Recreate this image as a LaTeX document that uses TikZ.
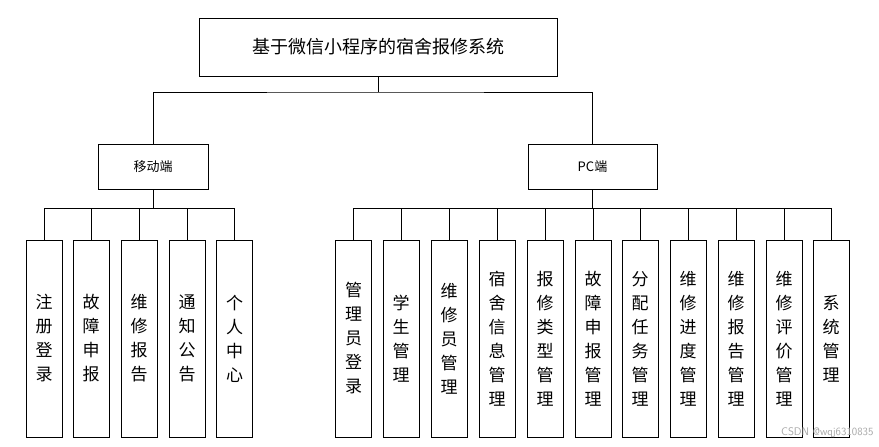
\documentclass[tikz,border=0pt]{standalone}
\usepackage{fontspec}
\newfontfamily\cjk{Noto Sans CJK SC}
\begin{document}
\begin{tikzpicture}[x=1pt,y=-1pt,
    box/.style={draw,line width=0.8pt,inner sep=0pt,font=\cjk},
    leaf/.style={box,minimum width=36pt,minimum height=197pt,align=center,
      font=\cjk\fontsize{17}{24}\selectfont},
    link/.style={line width=0.8pt}]
  \useasboundingbox (0,0) rectangle (879,447);

  % root and second level
  \node[box,minimum width=358pt,minimum height=58pt,font=\cjk\fontsize{18}{22}\selectfont] (root) at (378,47) {基于微信小程序的宿舍报修系统};
  \node[box,minimum width=110pt,minimum height=45pt,font=\cjk\fontsize{13}{16}\selectfont] (mobile) at (153,166.5) {移动端};
  \node[box,minimum width=129pt,minimum height=45pt,font=\cjk\fontsize{13}{16}\selectfont] (pc) at (592.5,166.5) {PC端};
  \coordinate (rj) at (378,92);
  \draw[link] (root.south) -- (rj) (mobile.north) |- (rj) -| (pc.north);

  % mobile leaves
  \coordinate (mj) at (153,208);
  \draw[link] (mobile.south) -- (mj);
  \foreach \n/\x/\t in {m1/44/注\\册\\登\\录, m2/91/故\\障\\申\\报, m3/139/维\\修\\报\\告,
                        m4/187/通\\知\\公\\告, m5/234.5/个\\人\\中\\心} {
    \node[leaf] (\n) at (\x,338.5) {\t};
    \draw[link] (\n.north) |- (mj);
  }

  % pc leaves
  \coordinate (pj) at (592.5,208);
  \draw[link] (pc.south) -- (pj);
  \foreach \n/\x/\t in {p1/353.5/管\\理\\员\\登\\录, p2/401/学\\生\\管\\理, p3/449/维\\修\\员\\管\\理,
                        p4/497/宿\\舍\\信\\息\\管\\理, p5/545/报\\修\\类\\型\\管\\理,
                        p6/593/故\\障\\申\\报\\管\\理, p7/640/分\\配\\任\\务\\管\\理,
                        p8/688/维\\修\\进\\度\\管\\理, p9/736/维\\修\\报\\告\\管\\理,
                        p10/784/维\\修\\评\\价\\管\\理, p11/831/系\\统\\管\\理} {
    \node[leaf] (\n) at (\x,338.5) {\t};
    \draw[link] (\n.north) |- (pj);
  }

  \node[text=black!35,font=\sffamily\fontsize{11}{12}\selectfont,anchor=east] (mark) at (877,433) {CSDN @wqj6310835};
\end{tikzpicture}
\end{document}
